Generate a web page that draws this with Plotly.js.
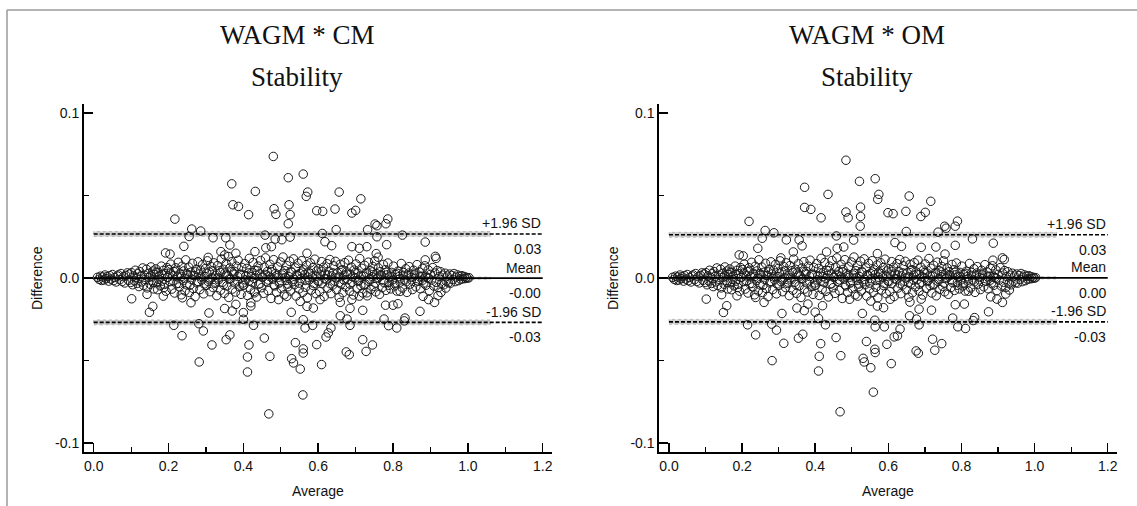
<!DOCTYPE html>
<html>
<head>
<meta charset="utf-8">
<script src="https://cdn.plot.ly/plotly-3.0.1.min.js"></script>
<style>html,body{margin:0;padding:0;background:#fff;}#chart{width:1137px;height:506px;}</style>
</head>
<body>
<div id="chart"></div>
<script>
// ---------------- DATA ----------------
const panelTitles = ["WAGM * CM", "WAGM * OM"];
const panelSubtitle = "Stability";
const xTickVals = [0, 0.2, 0.4, 0.6, 0.8, 1.0, 1.2];
const xTickText = ["0.0", "0.2", "0.4", "0.6", "0.8", "1.0", "1.2"];
const xMinorVals = [0.1, 0.3, 0.5, 0.7, 0.9, 1.1];
const yTickVals = [-0.1, 0, 0.1];
const yTickText = ["-0.1", "0.0", "0.1"];
const yMinorVals = [-0.05, 0.05];

// mean difference and limits of agreement per panel
const meanDiff = [-0.0001, 0.0001];
const upperLoA = [0.0267, 0.0262];
const lowerLoA = [-0.0269, -0.0266];
const leftLineLabels = ["+1.96 SD", "0.03", "Mean", "-0.00", "-1.96 SD", "-0.03"];
const rightLineLabels = ["+1.96 SD", "0.03", "Mean", "0.00", "-1.96 SD", "-0.03"];

// outlying points (Average, Difference)
const leftOutliers = [
 [0.369,0.0571],[0.372,0.0444],[0.387,0.0434],[0.217,0.0357],[0.262,0.0297],[0.286,0.0285],
 [0.255,0.0252],[0.319,0.0244],[0.353,0.0244],[0.241,0.0192],[0.192,0.0152],[0.204,0.0145],
 [0.364,0.0200],[0.340,0.0160],[0.350,0.0140],[0.360,0.0130],[0.306,0.0125],[0.380,0.0150],
 [0.480,0.0737],[0.520,0.0608],[0.560,0.0630],[0.572,0.0521],[0.568,0.0495],[0.432,0.0525],
 [0.656,0.0521],[0.714,0.0480],[0.414,0.0384],[0.482,0.0420],[0.487,0.0386],[0.522,0.0444],
 [0.525,0.0384],[0.520,0.0329],[0.596,0.0408],[0.612,0.0404],[0.645,0.0418],[0.690,0.0394],
 [0.700,0.0410],[0.752,0.0327],[0.757,0.0317],[0.786,0.0358],[0.781,0.0329],[0.648,0.0293],
 [0.458,0.0260],[0.525,0.0248],[0.611,0.0270],[0.732,0.0293],[0.757,0.0250],[0.485,0.0236],
 [0.503,0.0232],[0.460,0.0183],[0.475,0.0190],[0.618,0.0220],[0.636,0.0196],[0.431,0.0160],
 [0.570,0.0150],[0.690,0.0190],[0.710,0.0180],[0.730,0.0190],[0.783,0.0202],[0.755,0.0148],
 [0.760,0.0126],[0.825,0.0260],[0.886,0.0218],[0.913,0.0131],[0.915,0.0119],[0.886,0.0110],
 [0.1015,-0.0126],[0.1425,-0.0099],[0.158,-0.0172],[0.149,-0.0208],[0.186,-0.0110],[0.237,-0.0120],
 [0.260,-0.0150],[0.214,-0.0287],[0.236,-0.0350],[0.281,-0.0277],[0.293,-0.0321],[0.308,-0.0212],
 [0.316,-0.0406],[0.282,-0.0509],[0.354,-0.0374],[0.364,-0.0345],[0.350,-0.0185],[0.380,-0.0160],
 [0.400,-0.0210],[0.468,-0.0824],[0.559,-0.0709],[0.411,-0.0570],[0.411,-0.0479],[0.415,-0.0406],
 [0.456,-0.0364],[0.471,-0.0475],[0.529,-0.0489],[0.534,-0.0515],[0.552,-0.0552],[0.539,-0.0392],
 [0.560,-0.0430],[0.560,-0.0455],[0.596,-0.0404],[0.609,-0.0525],[0.621,-0.0358],[0.627,-0.0333],
 [0.634,-0.0303],[0.675,-0.0448],[0.683,-0.0465],[0.719,-0.0374],[0.728,-0.0445],[0.745,-0.0406],
 [0.560,-0.0253],[0.565,-0.0303],[0.585,-0.0287],[0.659,-0.0229],[0.677,-0.0249],[0.685,-0.0287],
 [0.528,-0.0208],[0.427,-0.0287],[0.400,-0.0250],[0.685,-0.0184],[0.719,-0.0196],[0.776,-0.0249],
 [0.788,-0.0289],[0.810,-0.0303],[0.780,-0.0165],[0.800,-0.0165],[0.370,-0.0200],[0.420,-0.0170],
 [0.430,-0.0090],[0.420,-0.0150],[0.494,-0.0131],[0.516,-0.0111],[0.552,-0.0142],[0.570,-0.0172],
 [0.587,-0.0182],[0.605,-0.0131],[0.659,-0.0148],[0.690,-0.0130],[0.710,-0.0110],[0.730,-0.0090],
 [0.819,-0.0081],[0.880,-0.0111],[0.895,-0.0131],[0.911,-0.0148],[0.920,-0.0107],[0.928,-0.0087],
 [0.941,-0.0061],[0.872,-0.0202],[0.832,-0.0243],[0.813,-0.0156],[0.830,-0.0260]
];

// outlying points
const rightOutliers = [
 [0.484,0.0714],[0.521,0.0586],[0.564,0.0602],[0.574,0.0507],[0.571,0.0477],[0.371,0.0550],
 [0.435,0.0507],[0.657,0.0497],[0.716,0.0465],[0.371,0.0428],[0.388,0.0416],[0.416,0.0365],
 [0.484,0.0400],[0.490,0.0365],[0.524,0.0430],[0.524,0.0373],[0.523,0.0314],[0.599,0.0396],
 [0.613,0.0390],[0.648,0.0404],[0.689,0.0373],[0.701,0.0398],[0.754,0.0314],[0.758,0.0302],
 [0.789,0.0345],[0.783,0.0314],[0.219,0.0343],[0.263,0.0288],[0.287,0.0274],[0.255,0.0241],
 [0.321,0.0231],[0.356,0.0231],[0.243,0.0180],[0.192,0.0140],[0.203,0.0134],[0.649,0.0282],
 [0.736,0.0278],[0.830,0.0237],[0.887,0.0211],[0.912,0.0122],[0.917,0.0112],[0.458,0.0255],
 [0.505,0.0230],[0.460,0.0180],[0.478,0.0188],[0.618,0.0215],[0.636,0.0192],[0.431,0.0158],
 [0.364,0.0195],[0.340,0.0158],[0.306,0.0122],[0.570,0.0148],[0.690,0.0186],[0.730,0.0188],
 [0.783,0.0198],[0.755,0.0145],[0.886,0.0108],
 [0.468,-0.0811],[0.559,-0.0692],[0.409,-0.0564],[0.411,-0.0475],[0.415,-0.0398],[0.470,-0.0471],
 [0.457,-0.0361],[0.282,-0.0501],[0.314,-0.0396],[0.237,-0.0345],[0.215,-0.0284],[0.281,-0.0280],
 [0.294,-0.0316],[0.354,-0.0365],[0.366,-0.0341],[0.531,-0.0487],[0.534,-0.0509],[0.552,-0.0544],
 [0.540,-0.0385],[0.563,-0.0432],[0.564,-0.0452],[0.596,-0.0402],[0.608,-0.0519],[0.616,-0.0357],
 [0.625,-0.0351],[0.632,-0.0310],[0.676,-0.0442],[0.682,-0.0456],[0.721,-0.0371],[0.727,-0.0438],
 [0.746,-0.0398],[0.563,-0.0256],[0.589,-0.0296],[0.564,-0.0296],[0.658,-0.0229],[0.677,-0.0249],
 [0.684,-0.0284],[0.529,-0.0215],[0.309,-0.0215],[0.428,-0.0284],[0.409,-0.0245],[0.776,-0.0243],
 [0.790,-0.0296],[0.811,-0.0306],[0.836,-0.0240],[0.874,-0.0205],[0.783,-0.0162],[0.808,-0.0158],
 [0.102,-0.0128],[0.144,-0.0101],[0.158,-0.0168],[0.149,-0.0209],[0.684,-0.0189],[0.718,-0.0195],
 [0.880,-0.0114],[0.897,-0.0128],[0.912,-0.0148],[0.921,-0.0097],[0.931,-0.0073],[0.186,-0.0108],
 [0.237,-0.0118],[0.260,-0.0148],[0.350,-0.0182],[0.380,-0.0158],[0.400,-0.0207],[0.370,-0.0198],
 [0.420,-0.0168],[0.494,-0.0129],[0.516,-0.0110],[0.552,-0.0140],[0.570,-0.0170],[0.587,-0.0180],
 [0.605,-0.0129],[0.659,-0.0146],[0.690,-0.0128],[0.819,-0.0080],[0.832,-0.0258]
];

// dense band of points around the mean (estimated from both panels)
const bandAx = [0.010,0.014,0.018,0.021,0.024,0.027,0.030,0.033,0.036,0.040,0.043,0.046,0.050,0.053,0.056,0.060,0.063,0.066,0.070,0.073,0.076,0.080,0.083,0.086,0.090,0.093,0.096,0.099];
const bandAy = [0.0004,-0.0008,0.0011,-0.0015,0.0006,-0.0012,0.0018,-0.0004,0.0009,-0.0019,0.0014,-0.0007,0.0021,-0.0016,0.0003,-0.0024,0.0012,0.0019,-0.0010,0.0027,-0.0021,0.0008,-0.0030,0.0016,0.0031,-0.0014,0.0024,-0.0027];
const bandBx = [0.101,0.104,0.106,0.109,0.111,0.113,0.116,0.118,0.121,0.123,0.126,0.128,0.131,0.133,0.136,0.138,0.141,0.143,0.146,0.148,0.151,0.153,0.156,0.158,0.161,0.163,0.166,0.168,0.171,0.173,0.176,0.178,0.181,0.183,0.186,0.188,0.191,0.193,0.196,0.198];
const bandBy = [0.0032,-0.0041,0.0012,-0.0018,0.0047,0.0005,-0.0033,0.0026,-0.0052,0.0039,0.0008,-0.0024,0.0061,-0.0045,0.0017,-0.0009,0.0053,-0.0060,0.0028,0.0003,-0.0038,0.0067,-0.0014,0.0042,-0.0066,0.0021,0.0055,-0.0029,-0.0071,0.0035,0.0011,-0.0048,0.0072,-0.0019,0.0046,-0.0057,0.0026,-0.0080,0.0063,0.0004];
const bandCx = [0.201,0.204,0.206,0.209,0.211,0.214,0.216,0.219,0.221,0.224,0.226,0.229,0.231,0.234,0.236,0.239,0.241,0.244,0.246,0.249,0.251,0.254,0.256,0.259,0.261,0.264,0.266,0.269,0.271,0.274,0.276,0.279,0.281,0.284,0.286,0.289,0.291,0.294,0.296,0.299,0.301,0.304,0.306,0.309,0.311,0.314,0.316,0.319,0.321,0.324,0.326,0.329,0.331,0.334,0.336,0.339,0.341,0.344,0.346,0.349,0.351,0.354,0.356,0.359,0.361,0.364,0.366,0.369,0.371,0.374,0.376,0.379,0.381,0.384,0.386,0.389,0.391,0.394,0.396,0.399];
const bandCy = [0.0051,-0.0022,0.0084,-0.0067,0.0013,0.0039,-0.0091,0.0062,-0.0035,0.0007,0.0095,-0.0054,0.0028,-0.0102,0.0071,-0.0016,0.0043,-0.0078,0.0110,-0.0041,0.0019,0.0066,-0.0088,0.0034,-0.0008,0.0089,-0.0063,0.0015,-0.0113,0.0052,-0.0029,0.0098,0.0024,-0.0070,0.0047,-0.0012,0.0081,-0.0096,0.0009,0.0058,-0.0045,0.0104,-0.0021,0.0037,-0.0083,0.0069,0.0002,-0.0058,0.0092,-0.0033,0.0016,-0.0107,0.0075,-0.0011,0.0044,-0.0074,0.0115,-0.0026,0.0053,-0.0093,0.0030,0.0086,-0.0048,0.0012,-0.0118,0.0061,-0.0006,0.0099,-0.0067,0.0025,0.0040,-0.0085,0.0072,-0.0017,0.0108,-0.0052,0.0021,-0.0099,0.0064,-0.0030];
const bandDx = [0.401,0.404,0.406,0.409,0.411,0.414,0.416,0.419,0.421,0.424,0.426,0.429,0.431,0.434,0.436,0.439,0.441,0.444,0.446,0.449,0.451,0.454,0.456,0.459,0.461,0.464,0.466,0.469,0.471,0.474,0.476,0.479,0.481,0.484,0.486,0.489,0.491,0.494,0.496,0.499,0.501,0.504,0.506,0.509,0.511,0.514,0.516,0.519,0.521,0.524,0.526,0.529,0.531,0.534,0.536,0.539,0.541,0.544,0.546,0.549,0.551,0.554,0.556,0.559,0.561,0.564,0.566,0.569,0.571,0.574,0.576,0.579,0.581,0.584,0.586,0.589,0.591,0.594,0.596,0.599];
const bandDy = [-0.0043,0.0087,-0.0012,0.0058,-0.0106,0.0031,0.0119,-0.0069,0.0008,-0.0027,0.0094,-0.0081,0.0047,0.0016,-0.0115,0.0072,-0.0038,0.0025,0.0106,-0.0059,0.0003,-0.0093,0.0065,0.0122,-0.0021,0.0039,-0.0076,0.0011,0.0083,-0.0124,0.0052,-0.0007,0.0111,-0.0048,0.0027,-0.0088,0.0068,0.0005,-0.0031,0.0097,-0.0064,0.0018,0.0127,-0.0102,0.0044,-0.0015,0.0076,-0.0053,0.0009,0.0101,-0.0079,0.0034,-0.0023,0.0116,-0.0041,0.0061,-0.0109,0.0014,0.0089,-0.0066,0.0028,-0.0004,0.0105,-0.0087,0.0049,0.0021,-0.0056,0.0078,-0.0120,0.0036,-0.0012,0.0092,-0.0073,0.0007,0.0063,-0.0034,0.0114,-0.0095,0.0042,-0.0019];
const bandEx = [0.601,0.604,0.606,0.609,0.611,0.614,0.616,0.619,0.621,0.624,0.626,0.629,0.631,0.634,0.636,0.639,0.641,0.644,0.646,0.649,0.651,0.654,0.656,0.659,0.661,0.664,0.666,0.669,0.671,0.674,0.676,0.679,0.681,0.684,0.686,0.689,0.691,0.694,0.696,0.699,0.701,0.704,0.706,0.709,0.711,0.714,0.716,0.719,0.721,0.724,0.726,0.729,0.731,0.734,0.736,0.739,0.741,0.744,0.746,0.749,0.751,0.754,0.756,0.759,0.761,0.764,0.766,0.769,0.771,0.774,0.776,0.779,0.781,0.784,0.786,0.789,0.791,0.794,0.796,0.799];
const bandEy = [0.0056,-0.0083,0.0018,0.0099,-0.0032,0.0065,-0.0112,0.0024,-0.0006,0.0087,-0.0061,0.0040,0.0112,-0.0095,0.0013,-0.0042,0.0074,-0.0019,0.0101,-0.0071,0.0030,0.0006,-0.0117,0.0083,-0.0036,0.0051,-0.0089,0.0017,0.0093,-0.0054,0.0037,-0.0010,0.0108,-0.0079,0.0022,0.0066,-0.0026,-0.0103,0.0048,0.0002,0.0085,-0.0063,0.0029,-0.0014,0.0118,-0.0046,0.0059,-0.0091,0.0011,0.0077,-0.0037,0.0033,-0.0108,0.0096,-0.0021,0.0045,-0.0069,0.0008,0.0070,-0.0052,0.0104,-0.0084,0.0026,-0.0003,0.0061,-0.0099,0.0038,0.0015,-0.0058,0.0082,-0.0028,0.0050,-0.0075,0.0019,0.0091,-0.0044,0.0007,-0.0066,0.0034,-0.0011];
const bandFx = [0.801,0.804,0.807,0.810,0.813,0.816,0.819,0.822,0.825,0.828,0.831,0.834,0.837,0.840,0.843,0.846,0.849,0.852,0.855,0.858,0.861,0.864,0.867,0.870,0.873,0.876,0.879,0.882,0.885,0.888,0.891,0.894,0.897,0.900,0.903,0.906,0.909,0.912,0.915,0.918,0.921,0.924,0.927,0.930,0.933,0.936,0.939,0.942,0.945,0.948];
const bandFy = [0.0072,-0.0048,0.0021,-0.0079,0.0041,0.0008,-0.0025,0.0088,-0.0061,0.0033,-0.0012,0.0056,-0.0087,0.0016,0.0069,-0.0037,0.0004,-0.0070,0.0047,0.0025,-0.0053,0.0081,-0.0019,0.0036,-0.0065,0.0011,0.0058,-0.0031,0.0074,-0.0044,0.0003,0.0049,-0.0076,0.0022,-0.0013,0.0063,-0.0049,0.0030,-0.0026,0.0045,-0.0058,0.0009,0.0038,-0.0034,0.0017,-0.0041,0.0029,-0.0020,0.0012,-0.0029];
const bandGx = [0.951,0.954,0.957,0.960,0.963,0.966,0.969,0.972,0.975,0.978,0.981,0.984,0.987,0.990,0.993,0.996,0.999,1.003];
const bandGy = [0.0024,-0.0031,0.0015,-0.0010,0.0027,-0.0022,0.0006,0.0019,-0.0016,0.0011,-0.0008,0.0014,-0.0005,0.0009,-0.0003,0.0004,-0.0001,0.0002];
const coreX = [0.152,0.159,0.167,0.174,0.182,0.189,0.197,0.205,0.212,0.219,0.227,0.235,0.242,0.249,0.257,0.265,0.272,0.279,0.287,0.295,0.302,0.309,0.317,0.325,0.332,0.339,0.347,0.355,0.362,0.369,0.377,0.385,0.392,0.399,0.407,0.415,0.422,0.429,0.437,0.445,0.452,0.459,0.467,0.475,0.482,0.489,0.497,0.505,0.512,0.519,0.527,0.535,0.542,0.549,0.557,0.565,0.572,0.579,0.587,0.595,0.602,0.609,0.617,0.625,0.632,0.639,0.647,0.655,0.662,0.669,0.677,0.685,0.692,0.699,0.707,0.715,0.722,0.729,0.737,0.745,0.752,0.759,0.767,0.775,0.782,0.789,0.797,0.805,0.812,0.819,0.827,0.835,0.842,0.849,0.857,0.865,0.872,0.879,0.887,0.895];
const coreY = [0.0012,-0.0027,0.0035,-0.0008,0.0021,-0.0039,0.0004,0.0030,-0.0017,0.0041,-0.0033,0.0010,-0.0002,0.0026,-0.0044,0.0016,0.0037,-0.0021,0.0006,-0.0036,0.0029,-0.0011,0.0043,-0.0025,0.0001,0.0034,-0.0040,0.0018,-0.0006,0.0039,-0.0029,0.0009,0.0024,-0.0045,0.0014,-0.0019,0.0032,-0.0003,0.0045,-0.0034,0.0007,0.0022,-0.0012,0.0038,-0.0042,0.0015,-0.0024,0.0028,0.0003,-0.0037,0.0041,-0.0009,0.0019,-0.0031,0.0036,-0.0015,0.0005,0.0027,-0.0046,0.0011,-0.0022,0.0040,-0.0005,0.0017,-0.0035,0.0031,0.0000,-0.0028,0.0044,-0.0013,0.0023,-0.0038,0.0008,0.0033,-0.0020,0.0013,-0.0041,0.0025,-0.0007,0.0037,-0.0030,0.0004,0.0020,-0.0016,0.0034,-0.0026,0.0010,-0.0034,0.0028,-0.0004,0.0016,-0.0023,0.0030,-0.0011,0.0019,-0.0018,0.0006,-0.0013,0.0011,-0.0002];

// ---------------- BUILD ----------------
const bandX = [].concat(bandAx, bandBx, bandCx, bandDx, bandEx, bandFx, bandGx, coreX);
const bandY = [].concat(bandAy, bandBy, bandCy, bandDy, bandEy, bandFy, bandGy, coreY);

const W = 1137, H = 506;
const CI_END = 1.06, X_END = 1.2;
const FONT = "Liberation Sans, Arial, sans-serif";
const SERIF = "Liberation Serif, Times New Roman, serif";
const TXT = 14;

function scatter(outliers, xa, ya) {
  return {
    type: "scatter", mode: "markers",
    x: outliers.map(p => p[0]).concat(bandX),
    y: outliers.map(p => p[1]).concat(bandY),
    xaxis: xa, yaxis: ya, hoverinfo: "skip",
    marker: {symbol: "circle-open", size: 8.5, color: "#1a1a1a", line: {width: 1, color: "#1a1a1a"}}
  };
}

function panelShapes(i, xr, yr) {
  const s = [];
  const band = 0.0015, mband = 0.0006;
  [upperLoA[i], lowerLoA[i]].forEach(v => {
    s.push({type: "rect", xref: xr, yref: yr, x0: 0, x1: CI_END, y0: v - band, y1: v + band,
      fillcolor: "#cfcfcf", line: {width: 0.6, color: "#9a9a9a", dash: "dot"}, layer: "below"});
    s.push({type: "line", xref: xr, yref: yr, x0: 0, x1: X_END, y0: v, y1: v,
      line: {color: "#000", width: 1.6, dash: "4px,2px"}, layer: "above"});
  });
  s.push({type: "rect", xref: xr, yref: yr, x0: 0, x1: CI_END, y0: meanDiff[i] - mband, y1: meanDiff[i] + mband,
    fillcolor: "#bdbdbd", line: {width: 0.6, color: "#8a8a8a", dash: "dot"}, layer: "below"});
  s.push({type: "line", xref: xr, yref: yr, x0: 0, x1: X_END, y0: meanDiff[i], y1: meanDiff[i],
    line: {color: "#000", width: 1.8}, layer: "above"});
  return s;
}

function lineLabels(i, labels, xr, yr) {
  const vals = [upperLoA[i], meanDiff[i], lowerLoA[i]];
  const out = [];
  vals.forEach((v, k) => {
    out.push({xref: xr, yref: yr, x: X_END, y: v, text: labels[2 * k], showarrow: false,
      xanchor: "right", yanchor: "middle", yshift: 10.5, font: {family: FONT, size: TXT, color: "#111"}});
    out.push({xref: xr, yref: yr, x: X_END, y: v, text: labels[2 * k + 1], showarrow: false,
      xanchor: "right", yanchor: "middle", yshift: -15, font: {family: FONT, size: TXT, color: "#111"}});
  });
  return out;
}

function xAxis(domain, range, anchor) {
  return {domain: domain, range: range, anchor: anchor, showgrid: false, zeroline: false,
    showline: true, linecolor: "#000", linewidth: 2,
    tickmode: "array", tickvals: xTickVals, ticktext: xTickText,
    ticks: "inside", ticklen: 9, tickwidth: 1.5, tickcolor: "#000",
    minor: {tickmode: "array", tickvals: xMinorVals, ticks: "inside", ticklen: 5, tickwidth: 1.2, tickcolor: "#000"},
    tickfont: {family: FONT, size: TXT, color: "#111"}, fixedrange: true};
}
function yAxis(range, anchor) {
  return {domain: [1 - 452 / H, 1 - 104 / H], range: range, anchor: anchor, showgrid: false, zeroline: false,
    showline: true, linecolor: "#000", linewidth: 2,
    tickmode: "array", tickvals: yTickVals, ticktext: yTickText,
    ticks: "inside", ticklen: 9, tickwidth: 1.5, tickcolor: "#000",
    minor: {tickmode: "array", tickvals: yMinorVals, ticks: "inside", ticklen: 5, tickwidth: 1.2, tickcolor: "#000"},
    tickfont: {family: FONT, size: TXT, color: "#111"}, fixedrange: true};
}

const yr = [-0.1055, 0.1055];
const annotations = [];
// titles
[[297, 0], [867, 1]].forEach(([cx, i]) => {
  annotations.push({xref: "paper", yref: "paper", x: cx / W, y: 1 - 35 / H, text: panelTitles[i], showarrow: false,
    xanchor: "center", yanchor: "middle", font: {family: SERIF, size: 27, color: "#111"}});
  annotations.push({xref: "paper", yref: "paper", x: cx / W, y: 1 - 77 / H, text: panelSubtitle, showarrow: false,
    xanchor: "center", yanchor: "middle", font: {family: SERIF, size: 27, color: "#111"}});
});
// axis titles
[[37, "x", "y"], [613, "x2", "y2"]].forEach(([px, xr, yrf]) => {
  annotations.push({xref: "paper", yref: "paper", x: px / W, y: 1 - 278 / H, text: "Difference", showarrow: false,
    textangle: -90, xanchor: "center", yanchor: "middle", font: {family: FONT, size: TXT, color: "#111"}});
  annotations.push({xref: xr, yref: "paper", x: 0.6, y: 1 - 491 / H, text: "Average", showarrow: false,
    xanchor: "center", yanchor: "middle", font: {family: FONT, size: TXT, color: "#111"}});
});
annotations.push(...lineLabels(0, leftLineLabels, "x", "y"));
annotations.push(...lineLabels(1, rightLineLabels, "x2", "y2"));

const frame = [
  {type: "line", xref: "paper", yref: "paper", x0: 7 / W, x1: 1, y0: 1 - 10 / H, y1: 1 - 10 / H, line: {color: "#9a9a9a", width: 1.5}},
  {type: "line", xref: "paper", yref: "paper", x0: 7 / W, x1: 7 / W, y0: 0, y1: 1 - 10 / H, line: {color: "#9a9a9a", width: 1.5}}
];

const layout = {
  width: W, height: H, margin: {l: 0, r: 0, t: 0, b: 0},
  paper_bgcolor: "#fff", plot_bgcolor: "rgba(0,0,0,0)", showlegend: false,
  xaxis: xAxis([84 / W, 552.3 / W], [-0.0259, 1.2256], "y"),
  yaxis: yAxis(yr, "x"),
  xaxis2: xAxis([659.3 / W, 1117.3 / W], [-0.0265, 1.2262], "y2"),
  yaxis2: yAxis(yr, "x2"),
  shapes: frame.concat(panelShapes(0, "x", "y"), panelShapes(1, "x2", "y2")),
  annotations: annotations
};

Plotly.newPlot("chart", [scatter(leftOutliers, "x", "y"), scatter(rightOutliers, "x2", "y2")], layout,
  {staticPlot: true, displayModeBar: false});
</script>
</body>
</html>
